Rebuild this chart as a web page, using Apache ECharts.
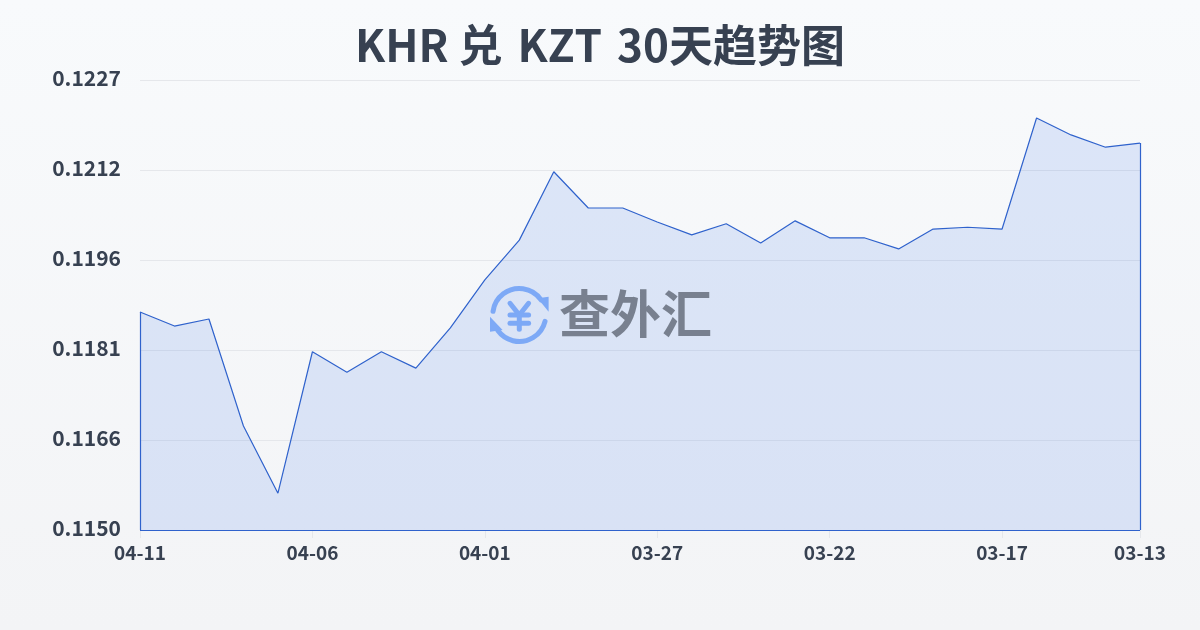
<!DOCTYPE html>
<html><head><meta charset="utf-8">
<style>html,body{margin:0;padding:0;background:#f5f7fa}#c{width:1200px;height:630px}</style>
<script src="https://cdn.jsdelivr.net/npm/echarts@6/dist/echarts.min.js"></script>
</head><body><div id="c"></div>
<script>
const categories = ['04-11','04-10','04-09','04-08','04-07','04-06','04-05','04-04','04-03','04-02','04-01','03-31','03-30','03-29','03-28','03-27','03-26','03-25','03-24','03-23','03-22','03-21','03-20','03-19','03-18','03-17','03-16','03-15','03-14','03-13'];
const rates = [0.11873,0.11849,0.11861,0.11678,0.11563,0.11805,0.11770,0.11805,0.11777,0.11846,0.11928,0.11996,0.12113,0.12051,0.12051,0.12027,0.12005,0.12024,0.11991,0.12029,0.12000,0.12000,0.11981,0.12015,0.12018,0.12015,0.12205,0.12176,0.12155,0.12162];
const yTickLabels = ['0.1150','0.1166','0.1181','0.1196','0.1212','0.1227'];
const yMin = 0.1150, yMax = 0.1227, yStep = 0.00154;
const shownX = [0,5,10,15,20,25,29];
const FONT = '"Noto Sans CJK SC",sans-serif';
const LINE = '#2f62cc';
const ICON = '#8ab4f8';
const INK = '#374151';
const last = categories.length - 1;
const chart = echarts.init(document.getElementById('c'), null, {renderer:'canvas'});
const iconStroke = {stroke:ICON,lineWidth:5,fill:null,lineCap:'round',lineJoin:'round'};
const titleSeg = {fontFamily:FONT,fontSize:44,fontWeight:'bold',color:INK,lineHeight:60};
chart.setOption({
  animation:false,
  backgroundColor:{type:'linear',x:0,y:0,x2:0,y2:1,colorStops:[{offset:0,color:'#f8fafc'},{offset:1,color:'#f3f4f6'}]},
  title:{text:'{t|KHR 兑}{s| }{t|KZT}{s| }{t|30天趋势图}',left:'center',top:10,
    textStyle:{fontFamily:FONT,fontSize:44,fontWeight:'bold',color:INK,lineHeight:60,
      rich:{t:titleSeg,s:{fontFamily:FONT,fontSize:66,fontWeight:'bold',lineHeight:60}}}},
  grid:{left:140,right:60,top:80,bottom:100,containLabel:false},
  xAxis:{type:'category',boundaryGap:false,data:categories,
    axisLine:{show:false},
    axisTick:{show:true,length:8,lineStyle:{color:'#e5e7eb'},customValues:shownX},
    axisLabel:{fontFamily:FONT,fontSize:19,fontWeight:'bold',color:INK,margin:13,customValues:shownX,hideOverlap:false,
      showMinLabel:true,showMaxLabel:true},
    splitLine:{show:false}},
  yAxis:{type:'value',min:yMin,max:yMax,interval:yStep,
    axisLine:{show:false},axisTick:{show:false},
    axisLabel:{fontFamily:FONT,fontSize:21,fontWeight:'bold',color:INK,margin:19,verticalAlign:'bottom',lineHeight:4,
      formatter:(v,i)=>yTickLabels[i]},
    splitLine:{show:true,lineStyle:{color:'#e5e7eb',width:1}}},
  series:[{type:'line',data:rates,symbol:'none',smooth:false,
    lineStyle:{color:LINE,width:1.2},
    areaStyle:{color:'rgba(37,99,235,0.13)',opacity:1},
    markLine:{silent:true,symbol:'none',label:{show:false},lineStyle:{color:LINE,width:1.2,type:'solid'},
      data:[
        [{coord:[categories[0],yMin]},{coord:[categories[0],rates[0]]}],
        [{coord:[categories[0],yMin]},{coord:[categories[last],yMin]}],
        [{coord:[categories[last],yMin]},{coord:[categories[last],rates[last]]}]
      ]}
  }],
  graphic:[
    {type:'group',left:490,top:286,silent:true,z:100,children:[
      {type:'arc',shape:{cx:30,cy:29,r:26.5,startAngle:Math.PI*1.044,endAngle:Math.PI*1.806},style:iconStroke},
      {type:'arc',shape:{cx:30,cy:29,r:26.5,startAngle:Math.PI*0.077,endAngle:Math.PI*0.8},style:iconStroke},
      {type:'polygon',shape:{points:[[48.3,12.3],[59.3,10.7],[59.3,25.7]]},style:{fill:ICON}},
      {type:'polygon',shape:{points:[[0.7,30.7],[0.7,45.7],[13.3,44]]},style:{fill:ICON}},
      {type:'polyline',shape:{points:[[20.7,17.3],[30,29],[39.3,17.3]]},style:iconStroke},
      {type:'polyline',shape:{points:[[20.7,29],[39.3,29]]},style:iconStroke},
      {type:'polyline',shape:{points:[[20.7,37.3],[39.3,37.3]]},style:iconStroke},
      {type:'polyline',shape:{points:[[30,29],[30,43.3]]},style:iconStroke}
    ]},
    {type:'text',left:559,top:288,silent:true,z:100,style:{text:'查外汇',font:'bold 51px '+FONT,fill:'#78808f'}}
  ]
});
</script></body></html>
